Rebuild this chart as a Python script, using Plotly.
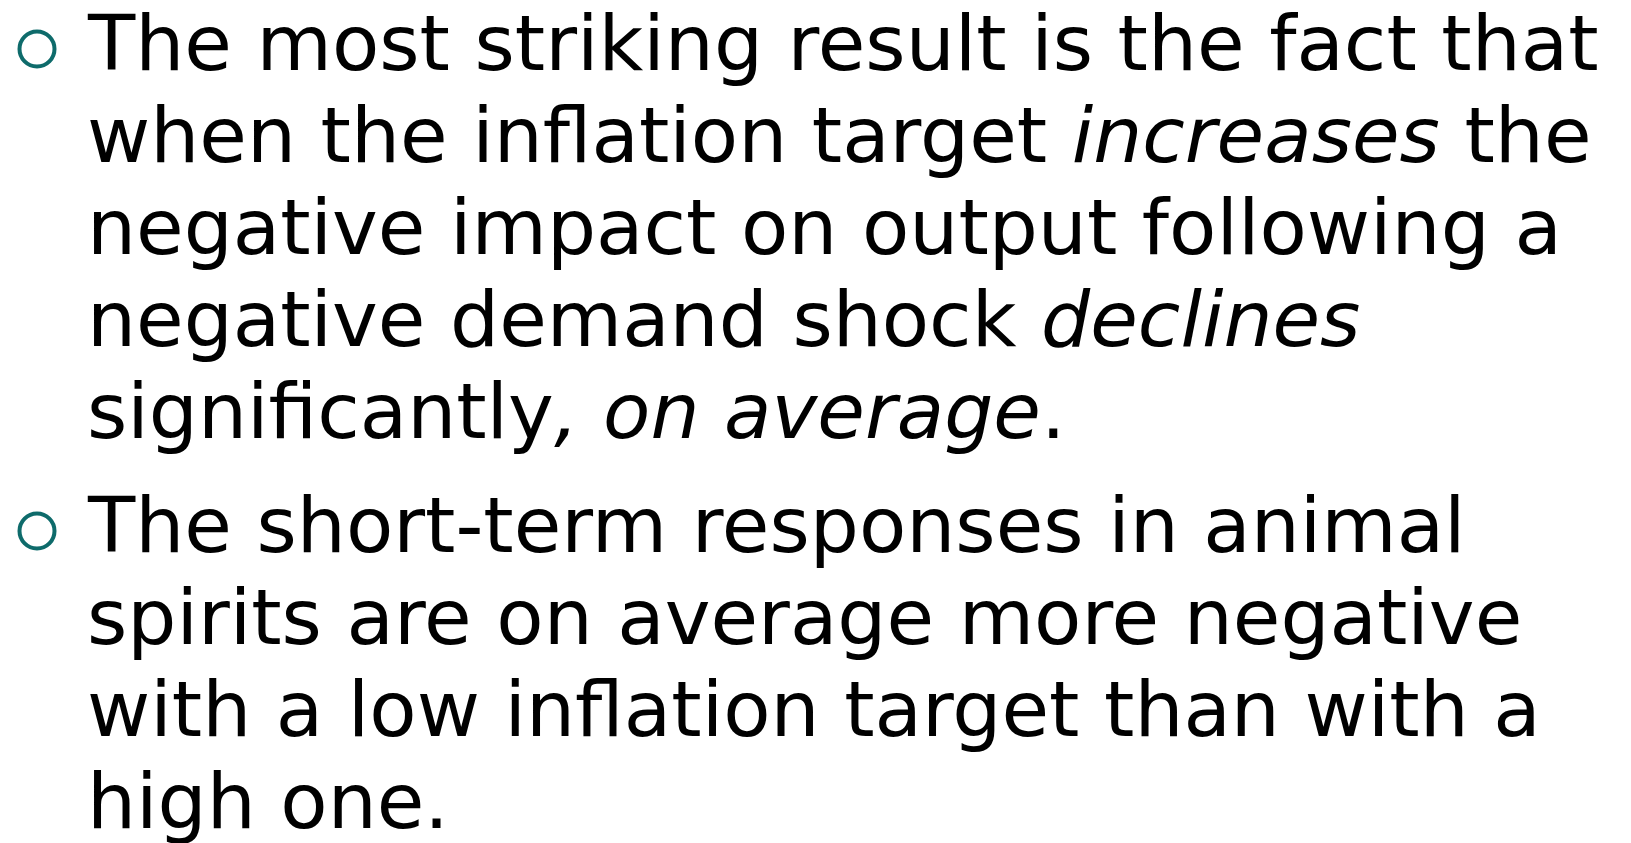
import plotly.graph_objects as go

# Slide content: two bullet paragraphs, each a list of wrapped lines (HTML italics allowed)
paragraph_1 = [
    "The most striking result is the fact that",
    "when the inflation target <i>increases</i> the",
    "negative impact on output following a",
    "negative demand shock <i>declines</i>",
    "significantly<i>, on average</i>.",
]
paragraph_2 = [
    "The short-term responses in animal",
    "spirits are on average more negative",
    "with a low inflation target than with a",
    "high one.",
]
paragraphs = [paragraph_1, paragraph_2]

W, H = 1631, 843
TEXT_X = 78
BULLET_X = 29
FIRST_BASELINE = 71
LINE_STEP = 92
PARA_GAP = 22
FONT_SIZE = 77.4
BULLET_RISE = 30
BULLET_COLOR = "#0E6B6B"

fig = go.Figure()
annotations = []
bullet_x, bullet_y = [], []
baseline = FIRST_BASELINE
for para in paragraphs:
    bullet_x.append(BULLET_X)
    bullet_y.append(baseline - BULLET_RISE)
    for line in para:
        annotations.append(dict(
            x=TEXT_X, y=baseline, xref="x", yref="y",
            text=line, showarrow=False, xanchor="left", yanchor="bottom",
            font=dict(family="DejaVu Sans", size=FONT_SIZE, color="#000000"),
            borderpad=0, yshift=-10,
        ))
        baseline += LINE_STEP
    baseline += PARA_GAP

fig.add_trace(go.Scatter(
    x=bullet_x, y=bullet_y, mode="markers",
    marker=dict(symbol="circle-open", size=35, color=BULLET_COLOR,
                line=dict(width=4, color=BULLET_COLOR)),
    hoverinfo="skip", showlegend=False,
))

fig.update_layout(
    width=W, height=H,
    margin=dict(l=0, r=0, t=0, b=0),
    paper_bgcolor="white", plot_bgcolor="white",
    xaxis=dict(range=[0, W], visible=False, fixedrange=True),
    yaxis=dict(range=[H, 0], visible=False, fixedrange=True),
    annotations=annotations,
    showlegend=False,
)
fig.write_html("out.html")
